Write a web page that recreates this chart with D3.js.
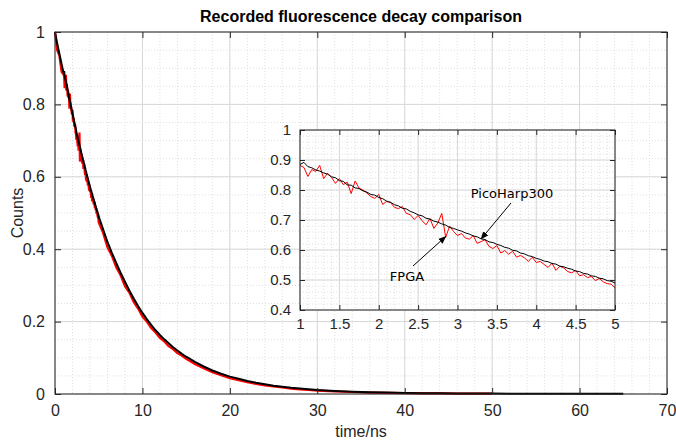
<!DOCTYPE html>
<html>
<head>
<meta charset="utf-8">
<script src="https://cdn.jsdelivr.net/npm/d3@7"></script>
<style>
  body { margin: 0; background: #fff; }
  svg text { font-family: "Liberation Sans", Arial, sans-serif; fill: #262626; }
  .grid-major line { stroke: #d8d8d8; stroke-width: 1; }
  .grid-minor line { stroke: #e0e0e0; stroke-width: 1; stroke-dasharray: 1,2; }
</style>
</head>
<body>
<div id="chart"></div>
<script>
// fine samples, 1..5 ns (the inset range)
const tFine = [1.00,1.05,1.10,1.15,1.20,1.25,1.30,1.35,1.40,1.45,1.50,1.55,1.60,1.65,1.70,1.75,1.80,1.85,1.90,1.95,
  2.00,2.05,2.10,2.15,2.20,2.25,2.30,2.35,2.40,2.45,2.50,2.55,2.60,2.65,2.70,2.75,2.80,2.85,2.90,2.95,
  3.00,3.05,3.10,3.15,3.20,3.25,3.30,3.35,3.40,3.45,3.50,3.55,3.60,3.65,3.70,3.75,3.80,3.85,3.90,3.95,
  4.00,4.05,4.10,4.15,4.20,4.25,4.30,4.35,4.40,4.45,4.50,4.55,4.60,4.65,4.70,4.75,4.80,4.85,4.90,4.95,5.00]
const picoFine = [0.885,0.892,0.878,0.874,0.867,0.863,0.857,0.853,0.844,0.841,0.831,0.829,0.817,0.816,0.807,0.805,0.797,0.793,0.785,0.783,
  0.775,0.771,0.763,0.759,0.751,0.747,0.739,0.737,0.729,0.724,0.717,0.714,0.706,0.703,0.696,0.693,0.687,0.683,0.675,0.672,
  0.667,0.663,0.657,0.653,0.647,0.644,0.637,0.635,0.627,0.625,0.619,0.615,0.609,0.606,0.599,0.597,0.590,0.587,0.581,0.578,
  0.572,0.569,0.563,0.561,0.555,0.553,0.546,0.544,0.539,0.536,0.530,0.528,0.522,0.520,0.514,0.512,0.506,0.504,0.498,0.496,0.490]
const fpgaFine = [0.882,0.875,0.845,0.868,0.862,0.882,0.838,0.856,0.842,0.822,0.838,0.818,0.826,0.788,0.830,0.806,0.800,0.790,0.778,0.772,
  0.785,0.752,0.762,0.758,0.742,0.738,0.745,0.722,0.718,0.702,0.715,0.698,0.684,0.705,0.672,0.690,0.722,0.642,0.680,0.662,
  0.648,0.655,0.640,0.636,0.648,0.622,0.628,0.634,0.612,0.605,0.615,0.590,0.598,0.586,0.596,0.576,0.582,0.574,0.562,0.576,
  0.558,0.562,0.552,0.542,0.556,0.532,0.546,0.540,0.528,0.524,0.532,0.514,0.518,0.508,0.512,0.498,0.505,0.494,0.488,0.486,0.474]

// coarse samples for the rest of the decay
const tCoarse = [0,0.25,0.5,0.75,5.5,6,6.5,7,7.5,8,8.5,9,9.5,10,10.5,11,11.5,12,12.5,13,13.5,14,14.5,15,
  16,17,18,19,20,21,22,23,24,25,26,27,28,29,30,32,34,36,38,40,42,44,46,48,50,52,54,56,58,60,62,64,65]
const picoCoarse = [1.0,0.968,0.94,0.912,0.455,0.42,0.39,0.362,0.335,0.31,0.286,0.264,0.243,0.224,0.207,0.191,0.176,0.163,0.151,0.14,0.129,0.12,0.111,0.103,
  0.089,0.076,0.065,0.056,0.048,0.042,0.036,0.031,0.027,0.023,0.020,0.017,0.015,0.013,0.011,0.0085,0.0065,0.005,0.0038,0.003,0.0024,0.002,0.0016,0.0013,0.0011,0.001,0.0008,0.0008,0.0006,0.0006,0.0005,0.0005,0.0004]
const fpgaCoarse = [1.0,0.95,0.935,0.89,0.445,0.405,0.382,0.35,0.328,0.298,0.28,0.254,0.236,0.214,0.2,0.182,0.17,0.155,0.145,0.132,0.124,0.113,0.106,0.097,
  0.083,0.071,0.06,0.052,0.044,0.038,0.033,0.028,0.024,0.021,0.018,0.015,0.013,0.011,0.0095,0.007,0.0055,0.004,0.003,0.0025,0.002,0.0015,0.0012,0.001,0.0008,null,null,null,null,null,null,null,null]

const mainXTicks = [0,10,20,30,40,50,60,70]
const mainYTicks = [0,0.2,0.4,0.6,0.8,1]
const insetXTicks = [1,1.5,2,2.5,3,3.5,4,4.5,5]
const insetYTicks = [0.4,0.5,0.6,0.7,0.8,0.9,1]

const width = 676, height = 441

// merge both sample sets into one sorted series per instrument
let pico = [], fpga = []
tFine.forEach((t, i) => { pico.push({t: t, v: picoFine[i]}); fpga.push({t: t, v: fpgaFine[i]}) })
tCoarse.forEach((t, i) => { pico.push({t: t, v: picoCoarse[i]}); fpga.push({t: t, v: fpgaCoarse[i]}) })
pico.sort((a, b) => a.t - b.t)
fpga.sort((a, b) => a.t - b.t)

const svg = d3.select("#chart").append("svg")
    .attr("width", width)
    .attr("height", height)

function drawGrid(g, x, y, xTicks, yTicks, xMinor, yMinor, w, h) {
    g.append("rect").attr("width", w).attr("height", h).attr("fill", "#fff")

    g.append("g").attr("class", "grid-minor")
        .selectAll("line").data(xMinor).join("line")
        .attr("x1", d => x(d)).attr("x2", d => x(d)).attr("y1", 0).attr("y2", h)
    g.append("g").attr("class", "grid-minor")
        .selectAll("line").data(yMinor).join("line")
        .attr("y1", d => y(d)).attr("y2", d => y(d)).attr("x1", 0).attr("x2", w)
    g.append("g").attr("class", "grid-major")
        .selectAll("line").data(xTicks).join("line")
        .attr("x1", d => x(d)).attr("x2", d => x(d)).attr("y1", 0).attr("y2", h)
    g.append("g").attr("class", "grid-major")
        .selectAll("line").data(yTicks).join("line")
        .attr("y1", d => y(d)).attr("y2", d => y(d)).attr("x1", 0).attr("x2", w)
}

function drawBox(g, x, y, xTicks, yTicks, w, h, tl, fs, pad) {
    // MATLAB style: inward ticks on all four sides
    const fmt = d3.format("~g")
    g.append("g").attr("transform", `translate(0,${h})`)
        .call(d3.axisBottom(x).tickValues(xTicks).tickFormat(fmt).tickSizeInner(-tl).tickSizeOuter(0).tickPadding(pad))
    g.append("g")
        .call(d3.axisTop(x).tickValues(xTicks).tickFormat("").tickSizeInner(-tl).tickSizeOuter(0))
    g.append("g")
        .call(d3.axisLeft(y).tickValues(yTicks).tickFormat(fmt).tickSizeInner(-tl).tickSizeOuter(0).tickPadding(tl + 4))
    g.append("g").attr("transform", `translate(${w},0)`)
        .call(d3.axisRight(y).tickValues(yTicks).tickFormat("").tickSizeInner(-tl).tickSizeOuter(0))
    g.selectAll(".domain").remove()
    g.selectAll(".tick line").attr("stroke", "#262626")
    g.selectAll(".tick text")
        .attr("font-family", "'Liberation Sans', Arial, sans-serif")
        .attr("font-size", fs)
        .style("font-size", fs + "px")
        .style("fill", "#262626")
    g.append("rect").attr("width", w).attr("height", h)
        .attr("fill", "none").attr("stroke", "#262626").attr("stroke-width", 1)
}

// ---- main axes ----
const m = {left: 55, top: 32, w: 612, h: 362}
const xMain = d3.scaleLinear().domain([0, 70]).range([0, m.w])
const yMain = d3.scaleLinear().domain([0, 1]).range([m.h, 0])
const main = svg.append("g").attr("transform", `translate(${m.left},${m.top})`)

drawGrid(main, xMain, yMain, mainXTicks, mainYTicks,
    d3.range(0, 70.01, 2), d3.range(0, 1.001, 0.05), m.w, m.h)

const lineMain = d3.line()
    .defined(d => d.v != null)
    .x(d => xMain(d.t))
    .y(d => yMain(d.v))

main.append("path").datum(fpga)
    .attr("d", lineMain).attr("fill", "none").attr("stroke", "#ff0000").attr("stroke-width", 2.2)
main.append("path").datum(pico)
    .attr("d", lineMain).attr("fill", "none").attr("stroke", "#000").attr("stroke-width", 2)

drawBox(main, xMain, yMain, mainXTicks, mainYTicks, m.w, m.h, 6, 16, 11)

svg.append("text")
    .attr("x", m.left + m.w / 2).attr("y", 22)
    .attr("text-anchor", "middle")
    .style("font-weight", "bold").style("font-size", "16px").style("fill", "#000")
    .text("Recorded fluorescence decay comparison")

svg.append("text")
    .attr("x", m.left + m.w / 2).attr("y", 437)
    .attr("text-anchor", "middle").style("font-size", "16px")
    .text("time/ns")

svg.append("text")
    .attr("transform", `translate(23,${m.top + m.h / 2}) rotate(-90)`)
    .attr("text-anchor", "middle").style("font-size", "16px")
    .text("Counts")

// ---- inset axes ----
const ins = {left: 300, top: 130, w: 315, h: 180}
const xIns = d3.scaleLinear().domain([1, 5]).range([0, ins.w])
const yIns = d3.scaleLinear().domain([0.4, 1]).range([ins.h, 0])
const inset = svg.append("g").attr("transform", `translate(${ins.left},${ins.top})`)

drawGrid(inset, xIns, yIns, insetXTicks, insetYTicks,
    d3.range(1, 5.001, 0.1), d3.range(0.4, 1.001, 0.02), ins.w, ins.h)

const lineIns = d3.line()
    .x(d => xIns(d.t))
    .y(d => yIns(d.v))
const inRange = d => d.t >= 1 && d.t <= 5

inset.append("path").datum(fpga.filter(inRange))
    .attr("d", lineIns).attr("fill", "none").attr("stroke", "#ff0000").attr("stroke-width", 1)
inset.append("path").datum(pico.filter(inRange))
    .attr("d", lineIns).attr("fill", "none").attr("stroke", "#000").attr("stroke-width", 1)

drawBox(inset, xIns, yIns, insetXTicks, insetYTicks, ins.w, ins.h, 5, 15, 8)

// ---- annotations ----
svg.append("defs").append("marker")
    .attr("id", "head").attr("viewBox", "0 0 10 10")
    .attr("refX", 9).attr("refY", 5)
    .attr("markerWidth", 8).attr("markerHeight", 8)
    .attr("orient", "auto")
    .append("path").attr("d", "M0,1 L10,5 L0,9 Z").attr("fill", "#000")

const notes = [
    {label: "PicoHarp300", tx: 512, ty: 198, x1: 511, y1: 203, t: 3.3, v: 0.637},
    {label: "FPGA", tx: 407, ty: 281, x1: 413, y1: 266, t: 2.85, v: 0.645}
]
notes.forEach(n => {
    svg.append("line")
        .attr("x1", n.x1).attr("y1", n.y1)
        .attr("x2", ins.left + xIns(n.t)).attr("y2", ins.top + yIns(n.v))
        .attr("stroke", "#000").attr("stroke-width", 1)
        .attr("marker-end", "url(#head)")
    svg.append("text")
        .attr("x", n.tx).attr("y", n.ty)
        .attr("text-anchor", "middle")
        .style("font-family", "'DejaVu Sans', sans-serif").style("font-size", "13px").style("fill", "#000")
        .text(n.label)
})
</script>
</body>
</html>
